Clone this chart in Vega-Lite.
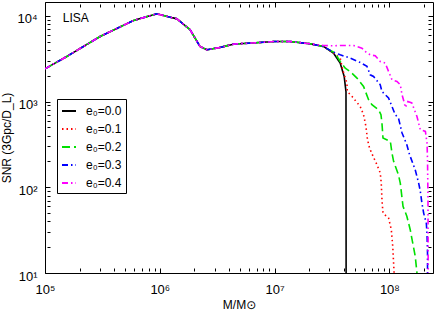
{
  "$schema": "https://vega.github.io/schema/vega-lite/v6.json",
  "width": 388,
  "height": 271,
  "autosize": "none",
  "padding": {"left": 45, "top": 2, "right": 3, "bottom": 42},
  "config": {
    "view": {"stroke": "black", "strokeWidth": 1},
    "font": "Liberation Sans",
    "axis": {"domain": false, "grid": false, "labelFont": "Liberation Sans, DejaVu Sans", "labelFontSize": 13, "labelColor": "black", "titleFont": "Liberation Sans, DejaVu Sans", "titleFontSize": 12, "titleFontWeight": "normal", "titleColor": "black", "tickColor": "black", "ticks": true, "tickWidth": 1}
  },
  "datasets": {
    "curves": [
      {"m": 1e5, "snr": 2410, "e": "e₀=0.0"},
      {"m": 1.55e5, "snr": 3360, "e": "e₀=0.0"},
      {"m": 3.02e5, "snr": 5740, "e": "e₀=0.0"},
      {"m": 5.9e5, "snr": 8820, "e": "e₀=0.0"},
      {"m": 9.4e5, "snr": 10550, "e": "e₀=0.0"},
      {"m": 1.41e6, "snr": 9230, "e": "e₀=0.0"},
      {"m": 1.84e6, "snr": 6870, "e": "e₀=0.0"},
      {"m": 2.24e6, "snr": 4390, "e": "e₀=0.0"},
      {"m": 2.57e6, "snr": 4020, "e": "e₀=0.0"},
      {"m": 3.34e6, "snr": 4270, "e": "e₀=0.0"},
      {"m": 4.39e6, "snr": 4680, "e": "e₀=0.0"},
      {"m": 9.9e6, "snr": 5010, "e": "e₀=0.0"},
      {"m": 1.37e7, "snr": 5010, "e": "e₀=0.0"},
      {"m": 2.04e7, "snr": 4720, "e": "e₀=0.0"},
      {"m": 2.67e7, "snr": 4390, "e": "e₀=0.0"},
      {"m": 3.26e7, "snr": 3670, "e": "e₀=0.0"},
      {"m": 3.73e7, "snr": 2810, "e": "e₀=0.0"},
      {"m": 4.04e7, "snr": 1960, "e": "e₀=0.0"},
      {"m": 4.19e7, "snr": 1300, "e": "e₀=0.0"},
      {"m": 4.2e7, "snr": 10, "e": "e₀=0.0"},

      {"m": 1e5, "snr": 2410, "e": "e₀=0.1"},
      {"m": 1.55e5, "snr": 3360, "e": "e₀=0.1"},
      {"m": 3.02e5, "snr": 5740, "e": "e₀=0.1"},
      {"m": 5.9e5, "snr": 8820, "e": "e₀=0.1"},
      {"m": 9.4e5, "snr": 10550, "e": "e₀=0.1"},
      {"m": 1.41e6, "snr": 9230, "e": "e₀=0.1"},
      {"m": 1.84e6, "snr": 6870, "e": "e₀=0.1"},
      {"m": 2.24e6, "snr": 4390, "e": "e₀=0.1"},
      {"m": 2.57e6, "snr": 4020, "e": "e₀=0.1"},
      {"m": 3.34e6, "snr": 4270, "e": "e₀=0.1"},
      {"m": 4.39e6, "snr": 4680, "e": "e₀=0.1"},
      {"m": 9.9e6, "snr": 5010, "e": "e₀=0.1"},
      {"m": 1.37e7, "snr": 5010, "e": "e₀=0.1"},
      {"m": 2.04e7, "snr": 4720, "e": "e₀=0.1"},
      {"m": 2.67e7, "snr": 4390, "e": "e₀=0.1"},
      {"m": 3.26e7, "snr": 3700, "e": "e₀=0.1"},
      {"m": 3.73e7, "snr": 3210, "e": "e₀=0.1"},
      {"m": 3.94e7, "snr": 2300, "e": "e₀=0.1"},
      {"m": 4.27e7, "snr": 1640, "e": "e₀=0.1"},
      {"m": 4.3e7, "snr": 1310, "e": "e₀=0.1"},
      {"m": 4.72e7, "snr": 1150, "e": "e₀=0.1"},
      {"m": 5.57e7, "snr": 877, "e": "e₀=0.1"},
      {"m": 5.96e7, "snr": 702, "e": "e₀=0.1"},
      {"m": 6.25e7, "snr": 513, "e": "e₀=0.1"},
      {"m": 6.45e7, "snr": 359, "e": "e₀=0.1"},
      {"m": 6.72e7, "snr": 287, "e": "e₀=0.1"},
      {"m": 7.05e7, "snr": 246, "e": "e₀=0.1"},
      {"m": 7.8e7, "snr": 183, "e": "e₀=0.1"},
      {"m": 8.33e7, "snr": 147, "e": "e₀=0.1"},
      {"m": 8.5e7, "snr": 112, "e": "e₀=0.1"},
      {"m": 8.62e7, "snr": 72, "e": "e₀=0.1"},
      {"m": 8.8e7, "snr": 50, "e": "e₀=0.1"},
      {"m": 9.84e7, "snr": 43.8, "e": "e₀=0.1"},
      {"m": 1.04e8, "snr": 32, "e": "e₀=0.1"},
      {"m": 1.07e8, "snr": 20.5, "e": "e₀=0.1"},
      {"m": 1.1e8, "snr": 10, "e": "e₀=0.1"},

      {"m": 1e5, "snr": 2410, "e": "e₀=0.2"},
      {"m": 1.55e5, "snr": 3360, "e": "e₀=0.2"},
      {"m": 3.02e5, "snr": 5740, "e": "e₀=0.2"},
      {"m": 5.9e5, "snr": 8820, "e": "e₀=0.2"},
      {"m": 9.4e5, "snr": 10550, "e": "e₀=0.2"},
      {"m": 1.41e6, "snr": 9230, "e": "e₀=0.2"},
      {"m": 1.84e6, "snr": 6870, "e": "e₀=0.2"},
      {"m": 2.24e6, "snr": 4390, "e": "e₀=0.2"},
      {"m": 2.57e6, "snr": 4020, "e": "e₀=0.2"},
      {"m": 3.34e6, "snr": 4270, "e": "e₀=0.2"},
      {"m": 4.39e6, "snr": 4680, "e": "e₀=0.2"},
      {"m": 9.9e6, "snr": 5010, "e": "e₀=0.2"},
      {"m": 1.37e7, "snr": 5010, "e": "e₀=0.2"},
      {"m": 2.04e7, "snr": 4720, "e": "e₀=0.2"},
      {"m": 2.67e7, "snr": 4390, "e": "e₀=0.2"},
      {"m": 3.37e7, "snr": 3670, "e": "e₀=0.2"},
      {"m": 3.73e7, "snr": 2930, "e": "e₀=0.2"},
      {"m": 4.13e7, "snr": 2450, "e": "e₀=0.2"},
      {"m": 4.56e7, "snr": 2240, "e": "e₀=0.2"},
      {"m": 5.22e7, "snr": 1880, "e": "e₀=0.2"},
      {"m": 5.96e7, "snr": 1500, "e": "e₀=0.2"},
      {"m": 6.59e7, "snr": 1050, "e": "e₀=0.2"},
      {"m": 7.05e7, "snr": 918, "e": "e₀=0.2"},
      {"m": 8.05e7, "snr": 802, "e": "e₀=0.2"},
      {"m": 8.45e7, "snr": 702, "e": "e₀=0.2"},
      {"m": 8.62e7, "snr": 561, "e": "e₀=0.2"},
      {"m": 8.8e7, "snr": 376, "e": "e₀=0.2"},
      {"m": 1.02e8, "snr": 343, "e": "e₀=0.2"},
      {"m": 1.054e8, "snr": 251, "e": "e₀=0.2"},
      {"m": 1.089e8, "snr": 201, "e": "e₀=0.2"},
      {"m": 1.2e8, "snr": 140, "e": "e₀=0.2"},
      {"m": 1.245e8, "snr": 112, "e": "e₀=0.2"},
      {"m": 1.315e8, "snr": 60, "e": "e₀=0.2"},
      {"m": 1.42e8, "snr": 46, "e": "e₀=0.2"},
      {"m": 1.52e8, "snr": 32, "e": "e₀=0.2"},
      {"m": 1.68e8, "snr": 15.7, "e": "e₀=0.2"},
      {"m": 1.74e8, "snr": 10, "e": "e₀=0.2"},

      {"m": 1e5, "snr": 2410, "e": "e₀=0.3"},
      {"m": 1.55e5, "snr": 3360, "e": "e₀=0.3"},
      {"m": 3.02e5, "snr": 5740, "e": "e₀=0.3"},
      {"m": 5.9e5, "snr": 8820, "e": "e₀=0.3"},
      {"m": 9.4e5, "snr": 10550, "e": "e₀=0.3"},
      {"m": 1.41e6, "snr": 9230, "e": "e₀=0.3"},
      {"m": 1.84e6, "snr": 6870, "e": "e₀=0.3"},
      {"m": 2.24e6, "snr": 4390, "e": "e₀=0.3"},
      {"m": 2.57e6, "snr": 4020, "e": "e₀=0.3"},
      {"m": 3.34e6, "snr": 4270, "e": "e₀=0.3"},
      {"m": 4.39e6, "snr": 4680, "e": "e₀=0.3"},
      {"m": 9.9e6, "snr": 5010, "e": "e₀=0.3"},
      {"m": 1.37e7, "snr": 5010, "e": "e₀=0.3"},
      {"m": 2.04e7, "snr": 4720, "e": "e₀=0.3"},
      {"m": 2.67e7, "snr": 4390, "e": "e₀=0.3"},
      {"m": 3.16e7, "snr": 3840, "e": "e₀=0.3"},
      {"m": 3.73e7, "snr": 3510, "e": "e₀=0.3"},
      {"m": 4.56e7, "snr": 3210, "e": "e₀=0.3"},
      {"m": 5.57e7, "snr": 2860, "e": "e₀=0.3"},
      {"m": 6.38e7, "snr": 2570, "e": "e₀=0.3"},
      {"m": 6.81e7, "snr": 2050, "e": "e₀=0.3"},
      {"m": 7.28e7, "snr": 1960, "e": "e₀=0.3"},
      {"m": 8.33e7, "snr": 1570, "e": "e₀=0.3"},
      {"m": 8.62e7, "snr": 1310, "e": "e₀=0.3"},
      {"m": 9.84e7, "snr": 1100, "e": "e₀=0.3"},
      {"m": 1.054e8, "snr": 877, "e": "e₀=0.3"},
      {"m": 1.125e8, "snr": 702, "e": "e₀=0.3"},
      {"m": 1.2e8, "snr": 643, "e": "e₀=0.3"},
      {"m": 1.29e8, "snr": 430, "e": "e₀=0.3"},
      {"m": 1.42e8, "snr": 314, "e": "e₀=0.3"},
      {"m": 1.5e8, "snr": 240, "e": "e₀=0.3"},
      {"m": 1.68e8, "snr": 160, "e": "e₀=0.3"},
      {"m": 1.8e8, "snr": 112, "e": "e₀=0.3"},
      {"m": 1.86e8, "snr": 90, "e": "e₀=0.3"},
      {"m": 1.92e8, "snr": 66, "e": "e₀=0.3"},
      {"m": 1.99e8, "snr": 50, "e": "e₀=0.3"},
      {"m": 2.1e8, "snr": 38, "e": "e₀=0.3"},
      {"m": 2.13e8, "snr": 28, "e": "e₀=0.3"},
      {"m": 2.15e8, "snr": 17, "e": "e₀=0.3"},
      {"m": 2.15e8, "snr": 10, "e": "e₀=0.3"},

      {"m": 1e5, "snr": 2410, "e": "e₀=0.4"},
      {"m": 1.55e5, "snr": 3360, "e": "e₀=0.4"},
      {"m": 3.02e5, "snr": 5740, "e": "e₀=0.4"},
      {"m": 5.9e5, "snr": 8820, "e": "e₀=0.4"},
      {"m": 9.4e5, "snr": 10550, "e": "e₀=0.4"},
      {"m": 1.41e6, "snr": 9230, "e": "e₀=0.4"},
      {"m": 1.84e6, "snr": 6870, "e": "e₀=0.4"},
      {"m": 2.24e6, "snr": 4390, "e": "e₀=0.4"},
      {"m": 2.57e6, "snr": 4020, "e": "e₀=0.4"},
      {"m": 3.34e6, "snr": 4270, "e": "e₀=0.4"},
      {"m": 4.39e6, "snr": 4680, "e": "e₀=0.4"},
      {"m": 9.9e6, "snr": 5010, "e": "e₀=0.4"},
      {"m": 1.37e7, "snr": 5010, "e": "e₀=0.4"},
      {"m": 2.04e7, "snr": 4720, "e": "e₀=0.4"},
      {"m": 2.67e7, "snr": 4500, "e": "e₀=0.4"},
      {"m": 3.26e7, "snr": 4470, "e": "e₀=0.4"},
      {"m": 3.73e7, "snr": 4510, "e": "e₀=0.4"},
      {"m": 4.87e7, "snr": 4510, "e": "e₀=0.4"},
      {"m": 5.77e7, "snr": 4200, "e": "e₀=0.4"},
      {"m": 6.16e7, "snr": 3840, "e": "e₀=0.4"},
      {"m": 6.81e7, "snr": 3510, "e": "e₀=0.4"},
      {"m": 7.53e7, "snr": 3420, "e": "e₀=0.4"},
      {"m": 8.33e7, "snr": 2930, "e": "e₀=0.4"},
      {"m": 9.2e7, "snr": 2810, "e": "e₀=0.4"},
      {"m": 1.054e8, "snr": 1795, "e": "e₀=0.4"},
      {"m": 1.165e8, "snr": 1715, "e": "e₀=0.4"},
      {"m": 1.245e8, "snr": 1570, "e": "e₀=0.4"},
      {"m": 1.29e8, "snr": 1200, "e": "e₀=0.4"},
      {"m": 1.34e8, "snr": 1000, "e": "e₀=0.4"},
      {"m": 1.38e8, "snr": 850, "e": "e₀=0.4"},
      {"m": 1.45e8, "snr": 1000, "e": "e₀=0.4"},
      {"m": 1.57e8, "snr": 962, "e": "e₀=0.4"},
      {"m": 1.74e8, "snr": 670, "e": "e₀=0.4"},
      {"m": 1.86e8, "snr": 469, "e": "e₀=0.4"},
      {"m": 2.06e8, "snr": 448, "e": "e₀=0.4"},
      {"m": 2.13e8, "snr": 328, "e": "e₀=0.4"},
      {"m": 2.15e8, "snr": 210, "e": "e₀=0.4"},
      {"m": 2.17e8, "snr": 72, "e": "e₀=0.4"},
      {"m": 2.18e8, "snr": 10, "e": "e₀=0.4"}
    ],
    "label": [{"m": 1.43e5, "snr": 9500, "t": "LISA"}]
  },
  "resolve": {"axis": {"x": "independent", "y": "independent"}},
  "layer": [
    {
      "data": {"name": "curves"},
      "mark": {"type": "line", "strokeWidth": 1.6, "clip": true},
      "encoding": {
        "x": {"field": "m", "type": "quantitative",
          "scale": {"type": "log", "domain": [1e5, 2.4e8], "nice": false},
          "axis": {"orient": "bottom", "title": "M/M⊙", "titlePadding": 3, "offset": -5,
            "values": [1e5,2e5,3e5,4e5,5e5,6e5,7e5,8e5,9e5,1e6,2e6,3e6,4e6,5e6,6e6,7e6,8e6,9e6,1e7,2e7,3e7,4e7,5e7,6e7,7e7,8e7,9e7,1e8,2e8],
            "labelExpr": "abs(log(datum.value)/LN10 - round(log(datum.value)/LN10)) < 0.001 ? '10' + ['⁰','¹','²','³','⁴','⁵','⁶','⁷','⁸','⁹'][round(log(datum.value)/LN10)] : ''",
            "tickSize": {"condition": {"test": "abs(log(datum.value)/LN10 - round(log(datum.value)/LN10)) < 0.001", "value": 5}, "value": 3},
            "labelPadding": 10, "labelFlush": false, "labelOverlap": false}},
        "y": {"field": "snr", "type": "quantitative",
          "scale": {"type": "log", "domain": [10, 14500], "nice": false},
          "axis": {"orient": "left", "title": "SNR (3Gpc/D_L)", "titlePadding": 3, "offset": -5,
            "values": [10,20,30,40,50,60,70,80,90,100,200,300,400,500,600,700,800,900,1000,2000,3000,4000,5000,6000,7000,8000,9000,10000],
            "labelExpr": "abs(log(datum.value)/LN10 - round(log(datum.value)/LN10)) < 0.001 ? '10' + ['⁰','¹','²','³','⁴','⁵','⁶','⁷','⁸','⁹'][round(log(datum.value)/LN10)] : ''",
            "tickSize": {"condition": {"test": "abs(log(datum.value)/LN10 - round(log(datum.value)/LN10)) < 0.001", "value": 5}, "value": 3},
            "labelOffset": 3, "labelPadding": 8, "labelOverlap": false}},
        "color": {"field": "e", "type": "nominal",
          "scale": {"domain": ["e₀=0.0","e₀=0.1","e₀=0.2","e₀=0.3","e₀=0.4"], "range": ["#000000","#ff0000","#00e000","#0000ff","#ff00ff"]},
          "legend": {"orient": "none", "legendX": 12, "legendY": 97, "title": null, "strokeColor": "black", "fillColor": "white", "padding": 4, "symbolType": "stroke", "symbolSize": 196, "symbolStrokeWidth": 2, "labelFontSize": 12, "labelFont": "Liberation Sans", "rowPadding": 4, "labelOffset": 9, "cornerRadius": 0}},
        "strokeDash": {"field": "e", "type": "nominal",
          "scale": {"domain": ["e₀=0.0","e₀=0.1","e₀=0.2","e₀=0.3","e₀=0.4"], "range": [[1,0],[1.5,3],[8,4],[6,3,1.5,3],[6,3,1.5,3,1.5,3]]},
          "legend": null},
        "order": {"field": "m", "type": "quantitative"}
      }
    },
    {
      "data": {"name": "label"},
      "mark": {"type": "text", "align": "left", "baseline": "middle", "fontSize": 12, "font": "Liberation Sans"},
      "encoding": {
        "x": {"field": "m", "type": "quantitative", "scale": {"type": "log", "domain": [1e5, 2.4e8], "nice": false},
          "axis": {"orient": "top", "title": null, "labels": false, "offset": -5,
            "values": [1e5,2e5,3e5,4e5,5e5,6e5,7e5,8e5,9e5,1e6,2e6,3e6,4e6,5e6,6e6,7e6,8e6,9e6,1e7,2e7,3e7,4e7,5e7,6e7,7e7,8e7,9e7,1e8,2e8],
            "tickSize": {"condition": {"test": "abs(log(datum.value)/LN10 - round(log(datum.value)/LN10)) < 0.001", "value": 5}, "value": 3}}},
        "y": {"field": "snr", "type": "quantitative", "scale": {"type": "log", "domain": [10, 14500], "nice": false},
          "axis": {"orient": "right", "title": null, "labels": false, "offset": -5,
            "values": [10,20,30,40,50,60,70,80,90,100,200,300,400,500,600,700,800,900,1000,2000,3000,4000,5000,6000,7000,8000,9000,10000],
            "tickSize": {"condition": {"test": "abs(log(datum.value)/LN10 - round(log(datum.value)/LN10)) < 0.001", "value": 5}, "value": 3}}},
        "text": {"field": "t"}
      }
    }
  ]
}
